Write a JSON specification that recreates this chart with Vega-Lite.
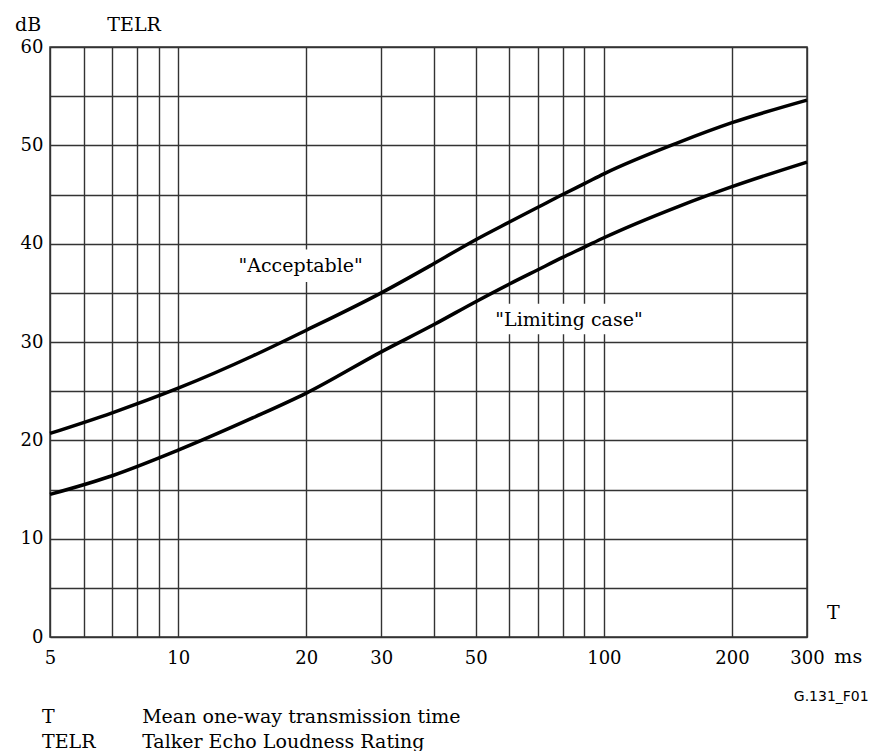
{
  "$schema": "https://vega.github.io/schema/vega-lite/v6.json",
  "width": 757,
  "height": 590,
  "autosize": {"type": "none"},
  "padding": {"left": 50, "top": 47, "right": 70, "bottom": 114},
  "background": "white",
  "config": {
    "view": {"stroke": "#333", "strokeWidth": 1.5},
    "axis": {
      "labelFont": "DejaVu Serif",
      "labelFontSize": 18,
      "labelColor": "#000",
      "domain": false,
      "ticks": false,
      "grid": true,
      "gridColor": "#333",
      "gridWidth": 1.4,
      "gridOpacity": 1,
      "title": null
    }
  },
  "datasets": {
    "curves": [
      {"curve": "Acceptable", "T": 5, "TELR": 20.7},
      {"curve": "Acceptable", "T": 7, "TELR": 22.8},
      {"curve": "Acceptable", "T": 10, "TELR": 25.3},
      {"curve": "Acceptable", "T": 15, "TELR": 28.6},
      {"curve": "Acceptable", "T": 20, "TELR": 31.2},
      {"curve": "Acceptable", "T": 30, "TELR": 35.0},
      {"curve": "Acceptable", "T": 40, "TELR": 38.0},
      {"curve": "Acceptable", "T": 50, "TELR": 40.4},
      {"curve": "Acceptable", "T": 60, "TELR": 42.2},
      {"curve": "Acceptable", "T": 70, "TELR": 43.7},
      {"curve": "Acceptable", "T": 80, "TELR": 45.0},
      {"curve": "Acceptable", "T": 90, "TELR": 46.1},
      {"curve": "Acceptable", "T": 100, "TELR": 47.1},
      {"curve": "Acceptable", "T": 150, "TELR": 50.3},
      {"curve": "Acceptable", "T": 200, "TELR": 52.3},
      {"curve": "Acceptable", "T": 300, "TELR": 54.6},
      {"curve": "Limiting case", "T": 5, "TELR": 14.5},
      {"curve": "Limiting case", "T": 7, "TELR": 16.4},
      {"curve": "Limiting case", "T": 10, "TELR": 19.0},
      {"curve": "Limiting case", "T": 15, "TELR": 22.3},
      {"curve": "Limiting case", "T": 20, "TELR": 24.8},
      {"curve": "Limiting case", "T": 30, "TELR": 29.0},
      {"curve": "Limiting case", "T": 40, "TELR": 31.8},
      {"curve": "Limiting case", "T": 50, "TELR": 34.1},
      {"curve": "Limiting case", "T": 60, "TELR": 35.9},
      {"curve": "Limiting case", "T": 70, "TELR": 37.35},
      {"curve": "Limiting case", "T": 80, "TELR": 38.6},
      {"curve": "Limiting case", "T": 90, "TELR": 39.65},
      {"curve": "Limiting case", "T": 100, "TELR": 40.6},
      {"curve": "Limiting case", "T": 150, "TELR": 43.8},
      {"curve": "Limiting case", "T": 200, "TELR": 45.8},
      {"curve": "Limiting case", "T": 300, "TELR": 48.3}
    ],
    "boxes": [
      {"x1": 13.1, "x2": 28.9, "y1": 36.1, "y2": 39.4},
      {"x1": 53.1, "x2": 130.5, "y1": 30.8, "y2": 33.9}
    ],
    "labels": [
      {"text": "\"Acceptable\"", "T": 19.4, "TELR": 37.7, "role": "c"},
      {"text": "\"Limiting case\"", "T": 82.8, "TELR": 32.2, "role": "c"},
      {"text": "dB", "T": 4.44, "TELR": 62.2, "role": "c"},
      {"text": "TELR", "T": 7.88, "TELR": 62.2, "role": "c"},
      {"text": "T", "T": 346, "TELR": 2.4, "role": "c"},
      {"text": "ms", "T": 375, "TELR": -2.0, "role": "c"},
      {"text": "T", "T": 4.79, "TELR": -8.14, "role": "l"},
      {"text": "TELR", "T": 4.79, "TELR": -10.68, "role": "l"},
      {"text": "Mean one-way transmission time", "T": 8.23, "TELR": -8.14, "role": "l"},
      {"text": "Talker Echo Loudness Rating", "T": 8.23, "TELR": -10.68, "role": "l"},
      {"text": "G.131_F01", "T": 342, "TELR": -6.1, "role": "s"}
    ]
  },
  "layer": [
    {
      "data": {"name": "curves"},
      "mark": {"type": "line", "color": "black", "strokeWidth": 3.5, "interpolate": "monotone"},
      "encoding": {
        "x": {
          "field": "T", "type": "quantitative",
          "scale": {"type": "log", "domain": [5, 300], "nice": false},
          "axis": {
            "values": [5, 6, 7, 8, 9, 10, 20, 30, 40, 50, 60, 70, 80, 90, 100, 200, 300],
            "labelExpr": "indexof([5,10,20,30,50,100,200,300], datum.value) >= 0 ? datum.label : ''",
            "labelPadding": 12,
            "labelFlush": false,
            "labelOverlap": false
          }
        },
        "y": {
          "field": "TELR", "type": "quantitative",
          "scale": {"domain": [0, 60], "nice": false, "zero": false},
          "axis": {
            "values": [0, 5, 10, 15, 20, 25, 30, 35, 40, 45, 50, 55, 60],
            "labelExpr": "datum.value % 10 == 0 ? datum.label : ''",
            "labelPadding": 7,
            "labelOverlap": false
          }
        },
        "detail": {"field": "curve"}
      }
    },
    {
      "data": {"name": "boxes"},
      "mark": {"type": "rect", "color": "white"},
      "encoding": {
        "x": {"field": "x1", "type": "quantitative"},
        "x2": {"field": "x2"},
        "y": {"field": "y1", "type": "quantitative"},
        "y2": {"field": "y2"}
      }
    },
    {
      "data": {"name": "labels"},
      "transform": [{"filter": "datum.role == 'c'"}],
      "mark": {"type": "text", "font": "DejaVu Serif", "fontSize": 19, "color": "#000", "align": "center", "baseline": "middle"},
      "encoding": {
        "x": {"field": "T", "type": "quantitative"},
        "y": {"field": "TELR", "type": "quantitative"},
        "text": {"field": "text"}
      }
    },
    {
      "data": {"name": "labels"},
      "transform": [{"filter": "datum.role == 'l'"}],
      "mark": {"type": "text", "font": "DejaVu Serif", "fontSize": 19, "color": "#000", "align": "left", "baseline": "middle"},
      "encoding": {
        "x": {"field": "T", "type": "quantitative"},
        "y": {"field": "TELR", "type": "quantitative"},
        "text": {"field": "text"}
      }
    },
    {
      "data": {"name": "labels"},
      "transform": [{"filter": "datum.role == 's'"}],
      "mark": {"type": "text", "font": "DejaVu Sans", "fontSize": 14, "color": "#000", "align": "center", "baseline": "middle"},
      "encoding": {
        "x": {"field": "T", "type": "quantitative"},
        "y": {"field": "TELR", "type": "quantitative"},
        "text": {"field": "text"}
      }
    }
  ]
}
